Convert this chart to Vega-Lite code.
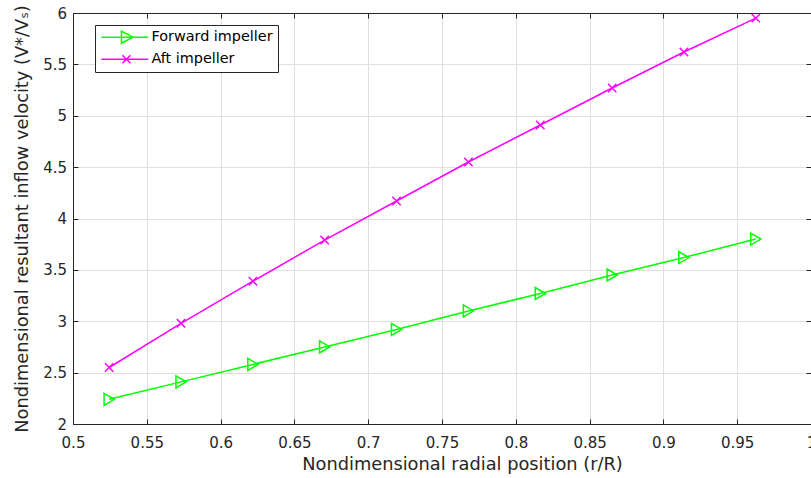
{
  "$schema": "https://vega.github.io/schema/vega-lite/v6.json",
  "width": 738,
  "height": 411,
  "autosize": {"type": "none"},
  "padding": {"left": 73, "top": 13, "right": 0, "bottom": 54},
  "background": "white",
  "config": {
    "font": "DejaVu Sans",
    "view": {"stroke": null},
    "axis": {
      "domainColor": "#262626",
      "tickColor": "#262626",
      "labelColor": "#262626",
      "titleColor": "#262626",
      "labelFontSize": 15,
      "titleFontSize": 17.8,
      "titleFontWeight": "normal",
      "gridColor": "#dfdfdf",
      "tickSize": -5,
      "domainWidth": 1,
      "tickWidth": 1
    }
  },
  "data": {
    "values": [
      {"r": 0.5245, "v": 2.24, "series": "Forward impeller"},
      {"r": 0.5732, "v": 2.41, "series": "Forward impeller"},
      {"r": 0.6219, "v": 2.58, "series": "Forward impeller"},
      {"r": 0.6705, "v": 2.75, "series": "Forward impeller"},
      {"r": 0.7192, "v": 2.92, "series": "Forward impeller"},
      {"r": 0.7679, "v": 3.10, "series": "Forward impeller"},
      {"r": 0.8166, "v": 3.27, "series": "Forward impeller"},
      {"r": 0.8653, "v": 3.45, "series": "Forward impeller"},
      {"r": 0.9139, "v": 3.62, "series": "Forward impeller"},
      {"r": 0.9626, "v": 3.80, "series": "Forward impeller"},
      {"r": 0.5245, "v": 2.55, "series": "Aft impeller"},
      {"r": 0.5732, "v": 2.98, "series": "Aft impeller"},
      {"r": 0.6219, "v": 3.39, "series": "Aft impeller"},
      {"r": 0.6705, "v": 3.79, "series": "Aft impeller"},
      {"r": 0.7192, "v": 4.17, "series": "Aft impeller"},
      {"r": 0.7679, "v": 4.55, "series": "Aft impeller"},
      {"r": 0.8166, "v": 4.91, "series": "Aft impeller"},
      {"r": 0.8653, "v": 5.27, "series": "Aft impeller"},
      {"r": 0.9139, "v": 5.62, "series": "Aft impeller"},
      {"r": 0.9626, "v": 5.95, "series": "Aft impeller"}
    ]
  },
  "layer": [
    {
      "mark": {"type": "line", "strokeWidth": 1.5},
      "encoding": {
        "x": {
          "field": "r", "type": "quantitative",
          "scale": {"domain": [0.5, 1], "nice": false, "zero": false},
          "axis": {
            "orient": "bottom",
            "title": "Nondimensional radial position (r/R)",
            "titleX": 389,
            "values": [0.5, 0.55, 0.6, 0.65, 0.7, 0.75, 0.8, 0.85, 0.9, 0.95, 1],
            "format": "~g",
            "grid": true,
            "labelPadding": 16,
            "titlePadding": 5,
            "labelFlush": false,
            "labelOverlap": false
          }
        },
        "y": {
          "field": "v", "type": "quantitative",
          "scale": {"domain": [2, 6], "nice": false, "zero": false},
          "axis": {
            "orient": "left",
            "title": "Nondimensional resultant inflow velocity (V*/Vₛ)",
            "values": [2, 2.5, 3, 3.5, 4, 4.5, 5, 5.5, 6],
            "format": "~g",
            "grid": true,
            "labelPadding": 11.5,
            "titlePadding": 11,
            "labelFlush": false,
            "labelOverlap": false
          }
        },
        "color": {
          "field": "series", "type": "nominal",
          "scale": {"domain": ["Forward impeller", "Aft impeller"], "range": ["#00ff00", "#ff00ff"]},
          "legend": {
            "title": null,
            "orient": "none",
            "legendX": 22,
            "legendY": 12,
            "padding": 5,
            "strokeColor": "#262626",
            "fillColor": "white",
            "cornerRadius": 0,
            "labelFontSize": 14.4,
            "labelColor": "#000000",
            "symbolSize": 100,
            "symbolStrokeWidth": 1.5,
            "symbolFillColor": "transparent",
            "rowPadding": 4,
            "labelOffset": 37,
            "symbolType": {"expr": "datum.value === 'Forward impeller' ? 'M-1.15,0H8.2M2.85,-1.2L5.15,0L2.85,1.2Z' : 'M-1.15,0H8.2M3.05,-0.8L4.65,0.8M3.05,0.8L4.65,-0.8'"}
          }
        }
      }
    },
    {
      "transform": [{"filter": "datum.series === 'Forward impeller'"}],
      "mark": {"type": "point", "filled": false, "strokeWidth": 1.5, "opacity": 1, "size": 144, "shape": "M-0.85,-1L0.85,0L-0.85,1Z"},
      "encoding": {
        "x": {
          "field": "r", "type": "quantitative",
          "axis": {"orient": "top", "title": null, "labels": false, "grid": false, "values": [0.5, 0.55, 0.6, 0.65, 0.7, 0.75, 0.8, 0.85, 0.9, 0.95, 1]}
        },
        "y": {
          "field": "v", "type": "quantitative",
          "axis": {"orient": "right", "title": null, "labels": false, "grid": false, "values": [2, 2.5, 3, 3.5, 4, 4.5, 5, 5.5, 6]}
        },
        "color": {"field": "series", "type": "nominal", "legend": null}
      }
    },
    {
      "transform": [{"filter": "datum.series === 'Aft impeller'"}],
      "mark": {"type": "point", "filled": false, "strokeWidth": 1.5, "opacity": 1, "size": 144, "shape": "M-0.7,-0.7L0.7,0.7M-0.7,0.7L0.7,-0.7"},
      "encoding": {
        "x": {"field": "r", "type": "quantitative", "axis": null},
        "y": {"field": "v", "type": "quantitative", "axis": null},
        "color": {"field": "series", "type": "nominal", "legend": null}
      }
    }
  ]
}
